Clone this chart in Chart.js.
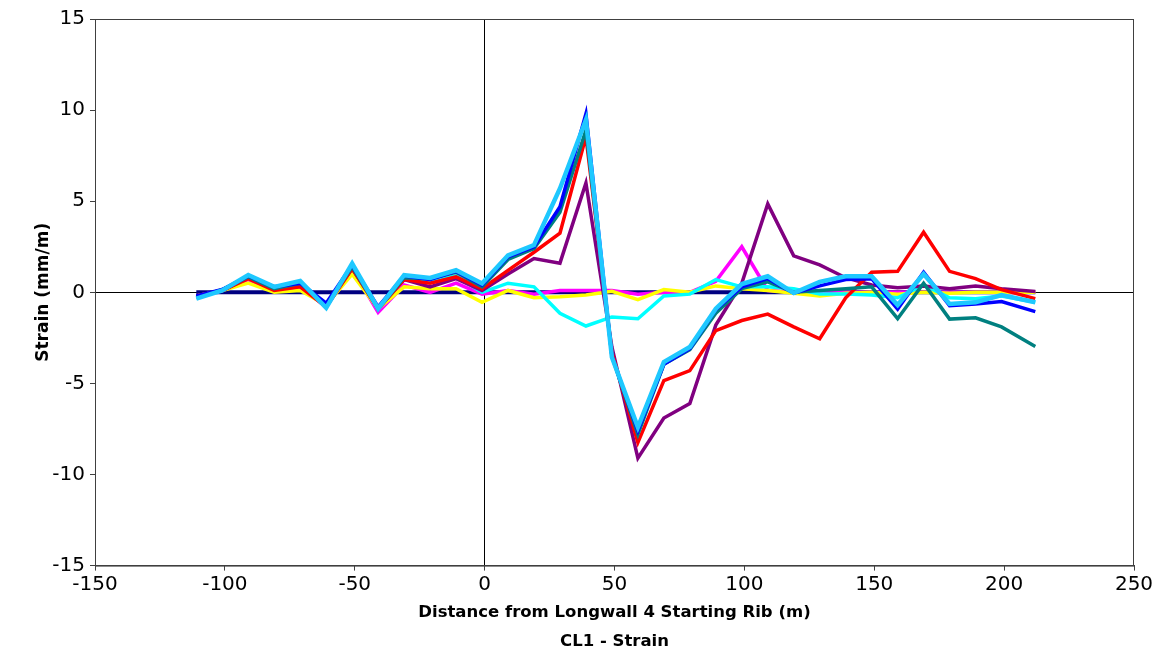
<!DOCTYPE html>
<html>
<head>
<meta charset="utf-8">
<title>CL1 - Strain</title>
<script src="https://cdn.jsdelivr.net/npm/chart.js@4.4.1/dist/chart.umd.min.js"></script>
<style>
  html, body { margin: 0; padding: 0; background: #fff; }
  #wrap { width: 1163px; height: 654px; position: relative; }
</style>
</head>
<body>
<div id="wrap"><canvas id="strainChart"></canvas></div>
<script>
// distance from starting rib (m)
const distances = [-111, -101, -91, -81, -71, -61, -51, -41, -31, -21, -11, -1, 9, 19, 29, 39, 49, 59, 69, 79, 89, 99, 109, 119, 129, 139, 149, 159, 169, 179, 189, 199, 212];

// strain (mm/m) for each survey
const navyStrain    = [0, 0, 0, 0, 0, 0, 0, 0, 0, 0, 0, 0, 0, 0, 0, 0, 0, 0, 0, 0, 0, 0, 0, 0, 0, 0, 0, 0, 0, 0, 0, 0, 0];
const magentaStrain = [-0.2, 0.1, 0.7, 0.1, 0.3, -0.8, 1.3, -1.1, 0.4, 0.0, 0.5, -0.1, 0.1, -0.1, 0.1, 0.1, 0.1, -0.1, 0.0, 0.0, 0.6, 2.5, 0.1, 0.0, 0.0, 0.0, 0.0, 0.0, 0.0, 0.0, 0.0, 0.0, 0.0];
const yellowStrain  = [-0.2, 0.1, 0.5, 0.0, 0.1, -0.7, 1.0, -0.9, 0.3, 0.2, 0.2, -0.55, 0.1, -0.3, -0.25, -0.15, 0.05, -0.4, 0.15, 0.0, 0.35, 0.2, 0.1, -0.05, -0.2, -0.05, 0.0, -0.1, 0.0, -0.05, 0.0, 0.0, 0.0];
const cyanStrain    = [-0.3, 0.1, 0.8, 0.2, 0.5, -0.8, 1.4, -0.9, 0.8, 0.6, 0.9, 0.0, 0.5, 0.3, -1.15, -1.85, -1.35, -1.45, -0.2, -0.1, 0.7, 0.3, 0.3, 0.2, -0.1, -0.1, -0.15, -0.3, 0.4, -0.3, -0.35, -0.2, -0.55];
const purpleStrain  = [-0.25, 0.1, 0.8, 0.2, 0.4, -0.7, 1.3, -0.9, 0.7, 0.3, 0.75, 0.1, 1.0, 1.85, 1.6, 6.0, -3.0, -9.1, -6.9, -6.1, -1.8, 0.5, 4.85, 2.0, 1.5, 0.8, 0.4, 0.25, 0.35, 0.2, 0.35, 0.2, 0.05];
const redStrain     = [-0.2, 0.1, 0.75, 0.1, 0.3, -0.8, 1.3, -0.9, 0.7, 0.5, 0.85, 0.2, 1.2, 2.2, 3.25, 8.55, -3.3, -8.25, -4.85, -4.3, -2.1, -1.55, -1.2, -1.9, -2.55, -0.3, 1.1, 1.15, 3.3, 1.15, 0.75, 0.15, -0.35];
const tealStrain    = [-0.25, 0.15, 0.85, 0.2, 0.5, -0.7, 1.4, -0.9, 0.8, 0.75, 1.1, 0.3, 1.8, 2.4, 4.4, 8.9, -3.5, -7.8, -3.95, -3.15, -1.15, 0.2, 0.57, 0.0, 0.1, 0.2, 0.3, -1.45, 0.5, -1.47, -1.4, -1.9, -2.97];
const blueStrain    = [-0.2, 0.15, 0.9, 0.3, 0.5, -0.6, 1.5, -0.8, 0.9, 0.7, 1.15, 0.4, 1.95, 2.5, 4.7, 9.8, -3.5, -7.6, -3.95, -3.1, -0.95, 0.3, 0.75, -0.05, 0.35, 0.7, 0.75, -0.92, 1.1, -0.73, -0.64, -0.51, -1.06];
const skyStrain     = [-0.35, 0.1, 0.95, 0.3, 0.62, -0.85, 1.58, -0.9, 0.94, 0.79, 1.21, 0.48, 2.03, 2.59, 5.7, 9.47, -3.56, -7.41, -3.83, -3.0, -0.9, 0.45, 0.88, -0.04, 0.57, 0.88, 0.88, -0.7, 1.0, -0.64, -0.55, -0.15, -0.55];

const xTicks = [-150, -100, -50, 0, 50, 100, 150, 200, 250];
const yTicks = [-15, -10, -5, 0, 5, 10, 15];

function toPoints(values) {
    return values.map((v, i) => ({ x: distances[i], y: v }));
}

// first in the list is drawn on top
const series = [
    { values: skyStrain,     color: '#1ec8ff', width: 4.5 },
    { values: blueStrain,    color: '#0000ff', width: 3.5 },
    { values: tealStrain,    color: '#008080', width: 3.5 },
    { values: redStrain,     color: '#ff0000', width: 3.5 },
    { values: purpleStrain,  color: '#800080', width: 3.5 },
    { values: cyanStrain,    color: '#00ffff', width: 3.5 },
    { values: yellowStrain,  color: '#ffff00', width: 3.5 },
    { values: magentaStrain, color: '#ff00ff', width: 3.5 },
    { values: navyStrain,    color: '#000080', width: 4 }
];

const framePlugin = {
    id: 'frame',
    beforeDatasetsDraw(chart) {
        const { ctx, chartArea } = chart;
        ctx.save();
        ctx.strokeStyle = '#404040';
        ctx.lineWidth = 1;
        ctx.strokeRect(chartArea.left + 0.5, chartArea.top + 0.5,
            chartArea.right - chartArea.left - 1, chartArea.bottom - chartArea.top);
        ctx.restore();
    }
};

const tickFont = { family: 'DejaVu Sans', size: 20 };
const titleFont = { family: 'DejaVu Sans', size: 16.5, weight: 'bold' };

new Chart(document.getElementById('strainChart'), {
    type: 'line',
    data: {
        datasets: series.map(s => ({
            data: toPoints(s.values),
            borderColor: s.color,
            backgroundColor: s.color,
            borderWidth: s.width,
            pointRadius: 0,
            tension: 0,
            fill: false
        }))
    },
    options: {
        responsive: true,
        maintainAspectRatio: false,
        animation: false,
        layout: { padding: { left: 33, top: 19, right: 29, bottom: 0 } },
        plugins: {
            legend: { display: false },
            tooltip: { enabled: false },
            title: {
                display: true,
                text: 'CL1 - Strain',
                position: 'bottom',
                fullSize: false,
                color: '#000',
                font: titleFont,
                padding: { top: 8.6, bottom: 2.8 }
            }
        },
        scales: {
            x: {
                type: 'linear',
                min: -150,
                max: 250,
                afterBuildTicks: scale => { scale.ticks = xTicks.map(v => ({ value: v })); },
                afterFit: scale => { scale.height = 57.2; },
                ticks: { color: '#000', font: tickFont, padding: 2, maxRotation: 0 },
                grid: {
                    color: ctx => ctx.tick && ctx.tick.value === 0 ? '#000' : 'rgba(0,0,0,0)',
                    tickColor: '#404040',
                    tickLength: 5,
                    lineWidth: 1
                },
                border: { display: true, color: '#404040' },
                title: {
                    display: true,
                    text: 'Distance from Longwall 4 Starting Rib (m)',
                    color: '#000',
                    font: titleFont,
                    padding: { top: 0, bottom: 0 }
                }
            },
            y: {
                min: -15,
                max: 15,
                afterBuildTicks: scale => { scale.ticks = yTicks.map(v => ({ value: v })); },
                afterFit: scale => { scale.width = 62; },
                ticks: { color: '#000', font: tickFont, padding: 5 },
                grid: {
                    color: ctx => ctx.tick && ctx.tick.value === 0 ? '#000' : 'rgba(0,0,0,0)',
                    tickColor: '#404040',
                    tickLength: 5,
                    lineWidth: 1
                },
                border: { display: true, color: '#404040' },
                title: {
                    display: true,
                    text: 'Strain (mm/m)',
                    color: '#000',
                    font: { family: 'DejaVu Sans', size: 17, weight: 'bold' },
                    padding: { top: 0, bottom: 0 }
                }
            }
        }
    },
    plugins: [framePlugin]
});
</script>
</body>
</html>
